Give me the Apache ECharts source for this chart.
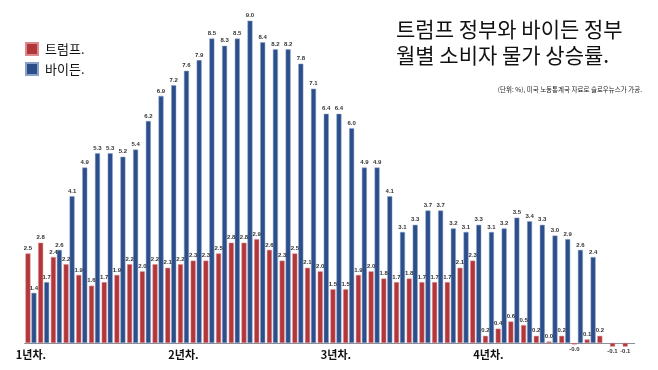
<!DOCTYPE html>
<html>
<head>
<meta charset="utf-8">
<script src="https://cdn.jsdelivr.net/npm/echarts@6/dist/echarts.min.js"></script>
<style>html,body{margin:0;padding:0;background:#fff}#c{width:658px;height:370px}</style>
</head>
<body>
<div id="c"></div>
<script>
var months = [];
for (var y = 1; y <= 4; y++) for (var m = 1; m <= 12; m++) months.push(y + '-' + m);
var yearLabels = ['1년차.', '2년차.', '3년차.', '4년차.'];
var trump = [2.5,2.8,2.4,2.2,1.9,1.6,1.7,1.9,2.2,2.0,2.2,2.1,
             2.2,2.3,2.3,2.5,2.8,2.8,2.9,2.6,2.3,2.5,2.1,2.0,
             1.5,1.5,1.9,2.0,1.8,1.7,1.8,1.7,1.7,1.7,2.1,2.3,
             0.2,0.4,0.6,0.5,0.2,0.04,0.2,-0.04,0.1,0.2,-0.1,-0.1];
var biden = [1.4,1.7,2.6,4.1,4.9,5.3,5.3,5.2,5.4,6.2,6.9,7.2,
             7.6,7.9,8.5,8.3,8.5,9.0,8.4,8.2,8.2,7.8,7.1,6.4,
             6.4,6.0,4.9,4.9,4.1,3.1,3.3,3.7,3.7,3.2,3.1,3.3,
             3.1,3.2,3.5,3.4,3.3,3.0,2.9,2.6,2.4,null,null,null];

function toItems(arr) {
  return arr.map(function (v) {
    if (v === null) return null;
    return v < 0 ? { value: v, label: { position: 'bottom' } } : v;
  });
}
var labelStyle = {
  show: true, position: 'top', distance: 2, fontSize: 6, fontWeight: 'bold', color: '#333',
  fontFamily: 'Liberation Sans, Arial, sans-serif',
  formatter: function (p) { return (p.value < 0 ? '-' : '') + Math.abs(p.value).toFixed(1); }
};
var chart = echarts.init(document.getElementById('c'), null, { renderer: 'canvas' });
chart.setOption({
  animation: false,
  textStyle: { fontFamily: 'Noto Sans CJK KR, sans-serif' },
  legend: {
    orient: 'vertical', left: 20, top: 37, itemWidth: 12, itemHeight: 12, itemGap: 6,
    icon: 'rect', selectedMode: false,
    textStyle: { fontSize: 13, color: '#111', padding: [0, 0, 0, 2], fontFamily: 'Noto Sans CJK KR' },
    data: ['트럼프.', '바이든.']
  },
  graphic: [
    { type: 'text', left: 396, top: 16,
      style: { text: '트럼프 정부와 바이든 정부\n월별 소비자 물가 상승률.', font: '21px "Noto Sans CJK KR"', fill: '#111', lineHeight: 26 } },
    { type: 'text', right: 16, top: 86,
      style: { text: '(단위: %), 미국 노동통계국 자료로 슬로우뉴스가 가공.', font: '6.5px "Noto Sans CJK KR"', fill: '#222' } }
  ],
  grid: { left: 24.6, right: 23.4, top: 20.7, bottom: 27, containLabel: false, outerBoundsMode: 'none' },
  xAxis: {
    type: 'category', data: months,
    axisLine: { lineStyle: { color: '#8a8f99', width: 1 } },
    axisTick: { show: false },
    axisLabel: {
      interval: 0, margin: 6, fontSize: 11, fontWeight: 'bold', color: '#111',
      fontFamily: 'Noto Sans CJK KR',
      formatter: function (v, i) { return i % 12 === 0 ? yearLabels[i / 12] : ''; }
    }
  },
  yAxis: { type: 'value', min: 0, max: 9, show: false, splitLine: { show: false } },
  series: [
    { name: '트럼프.', type: 'bar', data: toItems(trump), barWidth: 5, barGap: '20%', clip: false,
      itemStyle: { color: '#b2363a', borderColor: '#d98a8a', borderWidth: 0.5 }, label: labelStyle },
    { name: '바이든.', type: 'bar', data: toItems(biden), barWidth: 5, clip: false,
      itemStyle: { color: '#2c4f8b', borderColor: '#8aa2c8', borderWidth: 0.5 }, label: labelStyle }
  ]
});
</script>
</body>
</html>
